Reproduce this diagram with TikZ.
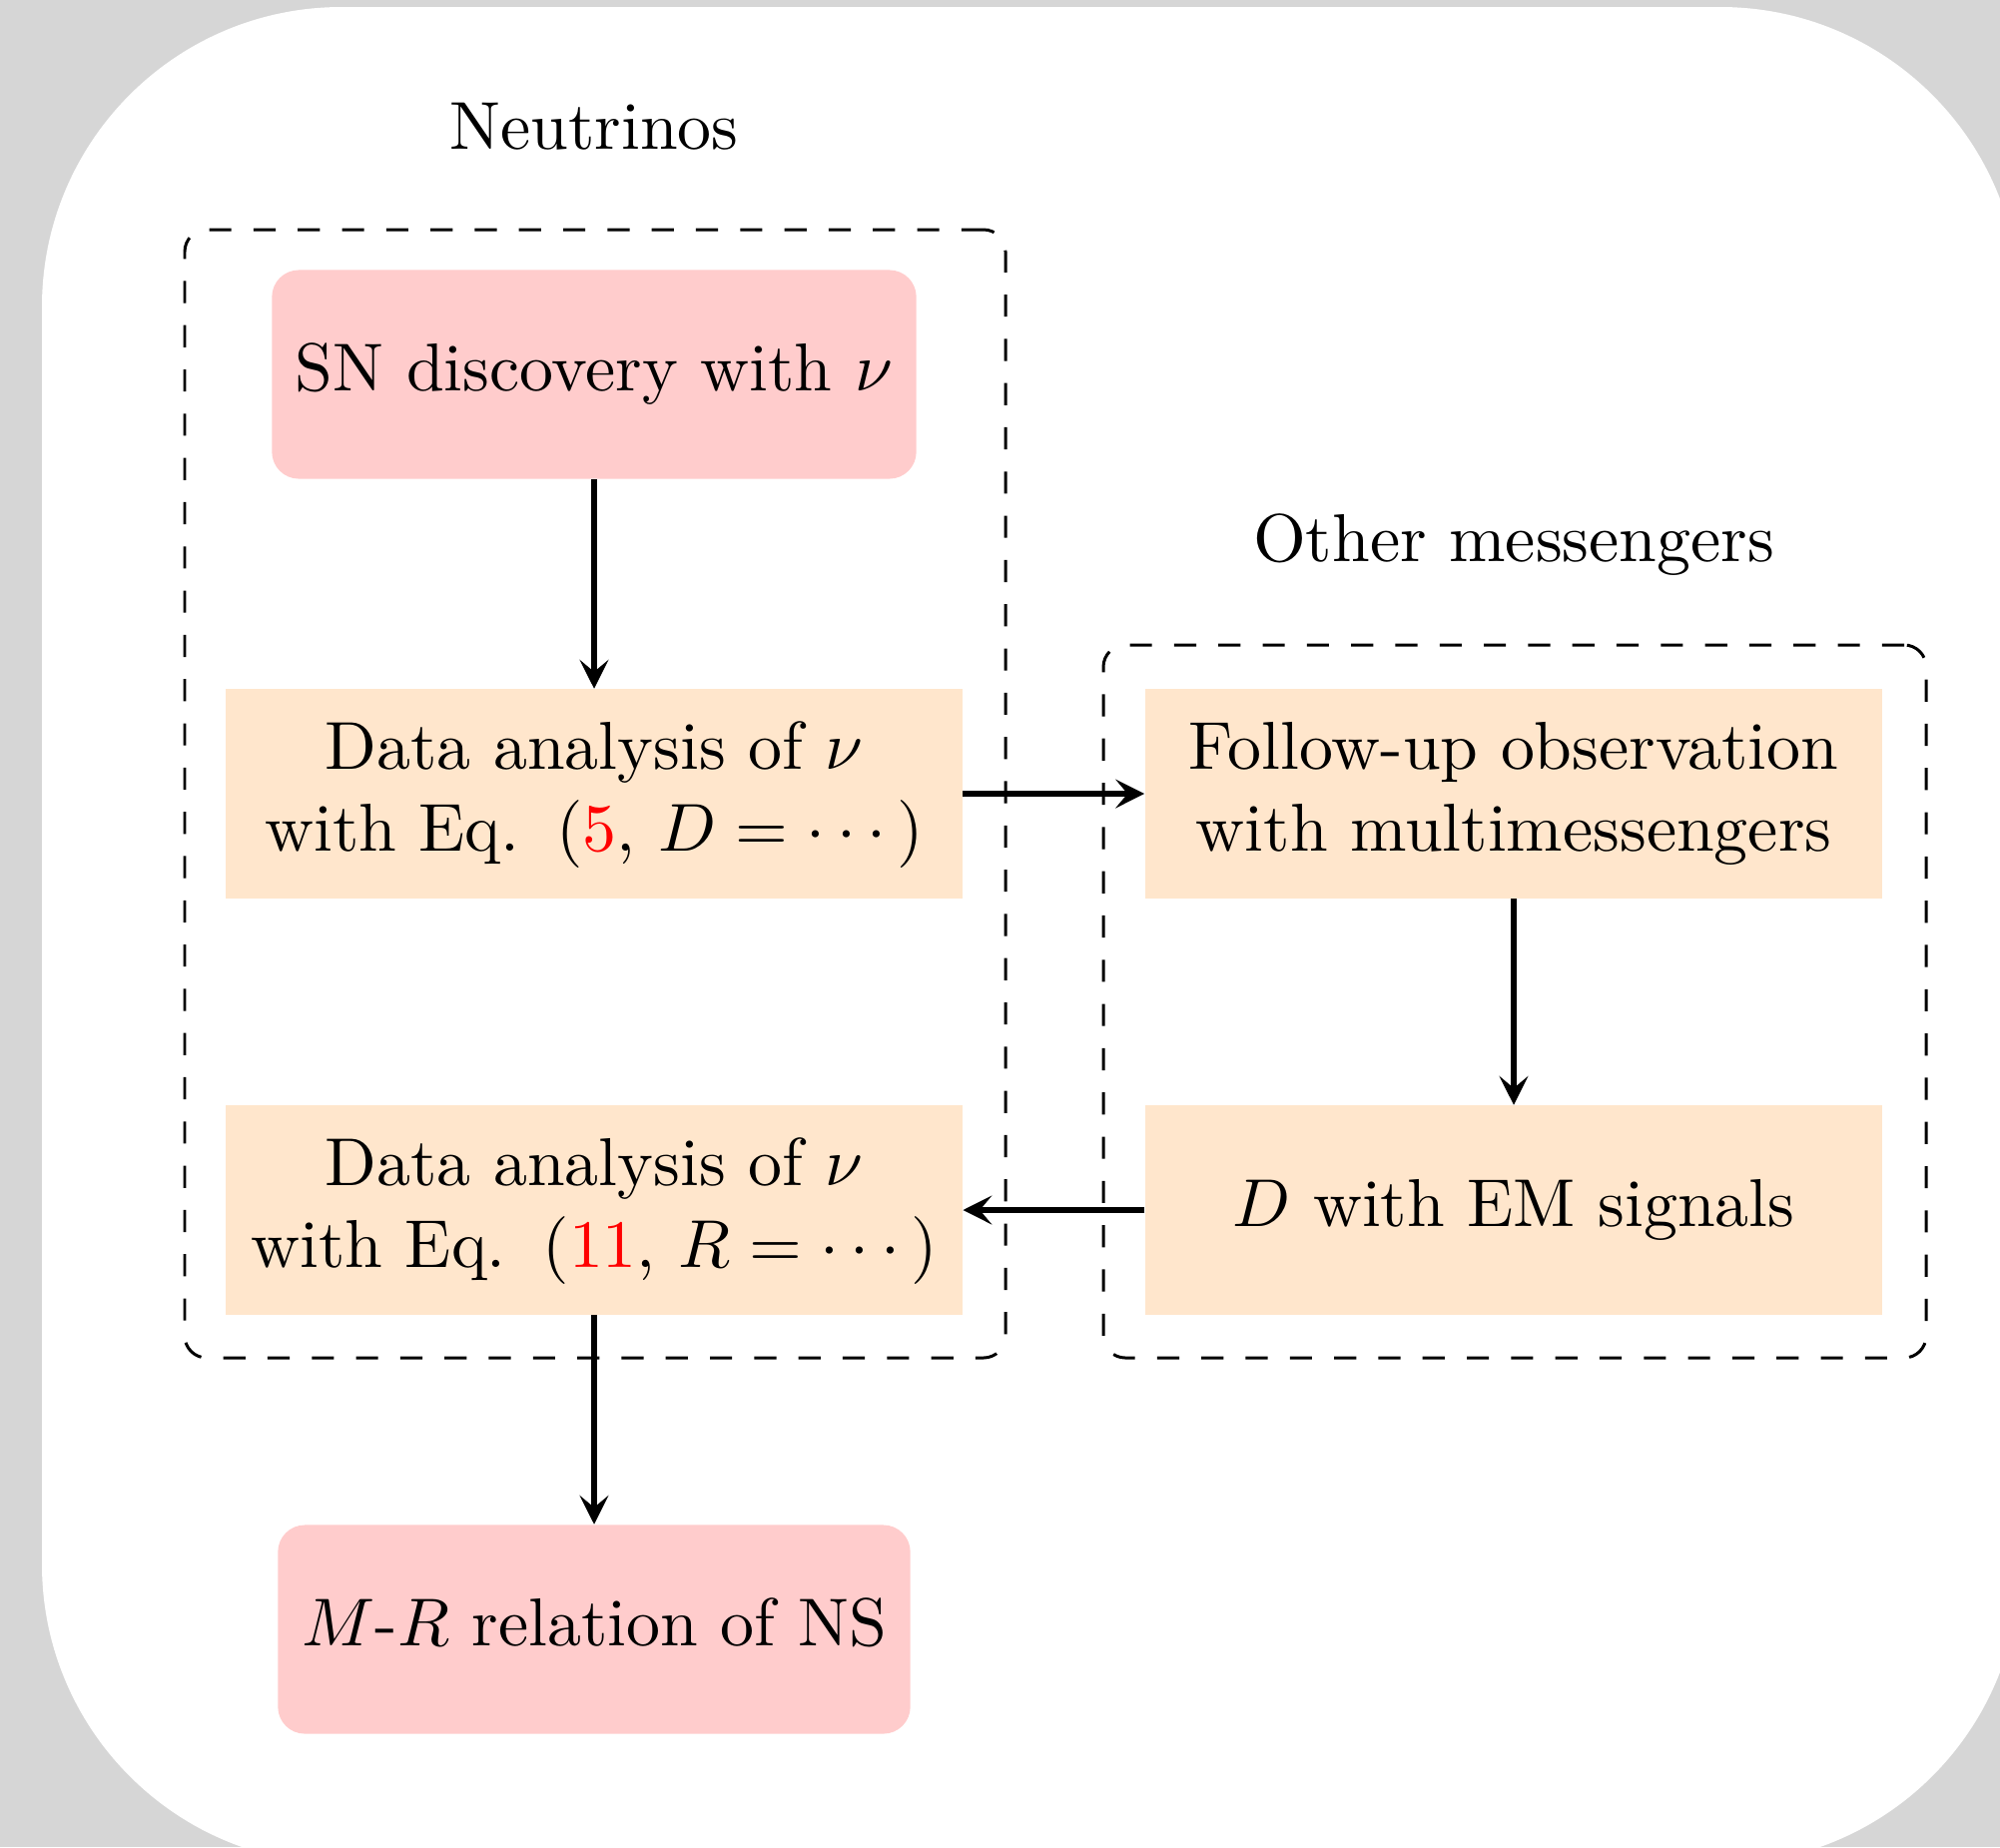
\documentclass[tikz,border=0pt]{standalone}
\usetikzlibrary{arrows.meta,fit}

\definecolor{pagegray}{RGB}{214,214,214}
\definecolor{boxpink}{RGB}{255,204,204}
\definecolor{boxpeach}{RGB}{255,230,204}

% text set at 10pt and enlarged as a whole
\newcommand{\scaledtext}[1]{\scalebox{1.93}{\begin{tabular}{@{}c@{}}#1\end{tabular}}}

\begin{document}
\begin{tikzpicture}[x=0.01cm, y=-0.01cm,
  every node/.style={font=\fontsize{10}{12}\selectfont},
  pinkbox/.style={fill=boxpink, rounded corners=0.27cm, minimum height=2.09cm, inner sep=0pt},
  peachbox/.style={fill=boxpeach, minimum width=7.37cm, minimum height=2.09cm, inner sep=0pt},
  groupframe/.style={draw, line width=0.85pt, dash pattern=on 6.3pt off 6.3pt,
                     rounded corners=0.22cm, inner sep=0pt},
  grouplabel/.style={anchor=base, inner sep=0pt},
  flow/.style={line width=1.7pt, -{Stealth[length=8.2pt, width=8.2pt, inset=3.4pt]}}
]
\useasboundingbox (0,0) rectangle (2003,1850);

% page backdrop
\begin{scope}
  \clip (0,0) rectangle (2003,1850);
  \fill[pagegray] (0,0) rectangle (2003,1850);
  \fill[white, rounded corners=3cm] (42,7) rectangle (2023,1867);
\end{scope}

% group labels
\node[grouplabel] (nulabel) at (595,149) {\scalebox{1.93}{Neutrinos}};
\node[grouplabel] (omlabel) at (1516,562) {\scalebox{1.93}{Other messengers}};

% group frames
\node[groupframe, fit={(185,230) (1007,1360)}] (nuframe) {};
\node[groupframe, fit={(1105,646) (1929,1360)}] (omframe) {};

% steps
\node[pinkbox, minimum width=6.45cm] (sn) at (595,375) {\scaledtext{SN discovery with $\nu$}};
\node[peachbox] (da1) at (595,795) {\scaledtext{Data analysis of $\nu$\\with Eq. \hspace{1pt}(\textcolor{red}{5}, $D=\cdots\,$)}};
\node[peachbox] (da2) at (595,1212) {\scaledtext{Data analysis of $\nu$\\with Eq. \hspace{1pt}(\textcolor{red}{11}, $R=\cdots\,$)}};
\node[pinkbox, minimum width=6.33cm] (mr) at (595,1632) {\scaledtext{$M$-$R$ relation of NS}};
\node[peachbox, minimum width=7.38cm] (fu) at (1516,795) {\scaledtext{Follow-up observation\\with multimessengers}};
\node[peachbox, minimum width=7.38cm] (dem) at (1516,1212) {\scaledtext{$D$ with EM signals}};

% connectors
\draw[flow] (sn) -- (da1);
\draw[flow] (da1) -- (fu);
\draw[flow] (fu) -- (dem);
\draw[flow] (dem) -- (da2);
\draw[flow] (da2) -- (mr);
\end{tikzpicture}
\end{document}
